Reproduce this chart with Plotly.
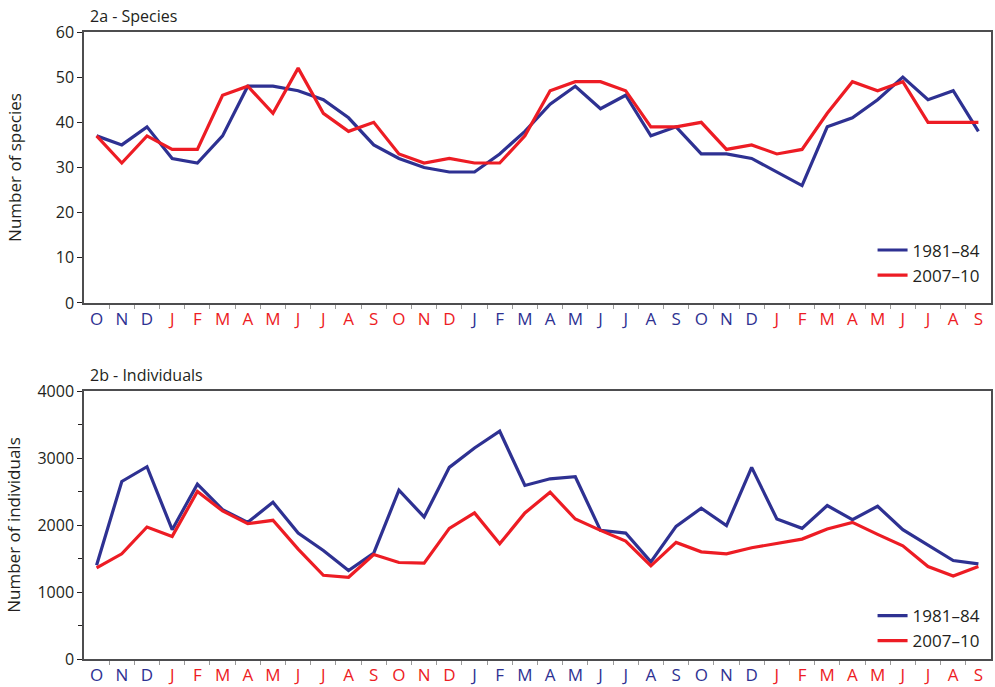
import plotly.graph_objects as go
from plotly.subplots import make_subplots

months = ["O", "N", "D",
          "J", "F", "M", "A", "M", "J", "J", "A", "S", "O", "N", "D",
          "J", "F", "M", "A", "M", "J", "J", "A", "S", "O", "N", "D",
          "J", "F", "M", "A", "M", "J", "J", "A", "S"]
# calendar year of each month (alternating label colours per year)
month_year = [0, 0, 0] + [1] * 12 + [2] * 12 + [3] * 9

species_1981 = [37, 35, 39, 32, 31, 37, 48, 48, 47, 45, 41, 35,
                32, 30, 29, 29, 33, 38, 44, 48, 43, 46, 37, 39,
                33, 33, 32, 29, 26, 39, 41, 45, 50, 45, 47, 38]
species_2007 = [37, 31, 37, 34, 34, 46, 48, 42, 52, 42, 38, 40,
                33, 31, 32, 31, 31, 37, 47, 49, 49, 47, 39, 39,
                40, 34, 35, 33, 34, 42, 49, 47, 49, 40, 40, 40]

indiv_1981 = [1400, 2650, 2870, 1930, 2610, 2230, 2040, 2340, 1880, 1620, 1320, 1580,
              2520, 2120, 2860, 3150, 3400, 2590, 2690, 2720, 1920, 1880, 1450, 1980,
              2250, 1990, 2860, 2090, 1950, 2290, 2080, 2280, 1930, 1700, 1470, 1420]
indiv_2007 = [1360, 1570, 1970, 1830, 2500, 2210, 2020, 2070, 1640, 1250, 1220, 1560,
              1440, 1430, 1950, 2180, 1720, 2180, 2490, 2090, 1920, 1760, 1390, 1740,
              1600, 1570, 1660, 1730, 1790, 1940, 2040, 1860, 1690, 1380, 1240, 1380]

BLUE = "#2e3192"
RED = "#ed1c24"
TEXT = "#231f20"
FONT = "Open Sans"

x = list(range(len(months)))
ticktext = [f"<span style='color:{BLUE if yr % 2 == 0 else RED}'>{m}</span>"
            for m, yr in zip(months, month_year)]

fig = make_subplots(rows=2, cols=1, vertical_spacing=0.14)
fig.update_layout(
    yaxis=dict(domain=[0.5678, 1.0]),
    yaxis2=dict(domain=[0.0, 0.4274]),
)

panels = [
    (species_1981, species_2007, 1, "legend"),
    (indiv_1981, indiv_2007, 2, "legend2"),
]
for s1, s2, row, leg in panels:
    fig.add_trace(go.Scatter(x=x, y=s1, mode="lines", name="1981\u201384",
                             line=dict(color=BLUE, width=3.2), legend=leg),
                  row=row, col=1)
    fig.add_trace(go.Scatter(x=x, y=s2, mode="lines", name="2007\u201310",
                             line=dict(color=RED, width=3.2), legend=leg),
                  row=row, col=1)

xaxis_common = dict(
    range=[-0.5, len(months) - 0.5],
    tickmode="array", tickvals=x, ticktext=ticktext,
    ticks="", showgrid=False, zeroline=False, automargin=False,
    showline=True, mirror=True, linecolor="#4d4d4f", linewidth=1.5,
    tickfont=dict(family=FONT, size=17),
    minor=dict(tickmode="array", tickvals=[i + 0.5 for i in x[:-1]],
               ticks="outside", ticklen=4, tickcolor="#9a9a9a", tickwidth=1),
    fixedrange=True,
)
fig.update_xaxes(**xaxis_common, row=1, col=1)
fig.update_xaxes(**xaxis_common, row=2, col=1)

yaxis_common = dict(
    showgrid=False, zeroline=False, automargin=False,
    showline=True, mirror=True, linecolor="#4d4d4f", linewidth=1.5,
    ticks="outside", ticklen=5, tickcolor=TEXT, tickwidth=1,
    tickfont=dict(family=FONT, size=16, color=TEXT),
    title_font=dict(family=FONT, size=17, color=TEXT),
)
fig.update_yaxes(**yaxis_common, range=[0, 60], tickvals=[0, 10, 20, 30, 40, 50, 60],
                 title_text="Number of species", title_standoff=30, row=1, col=1)
fig.update_yaxes(**yaxis_common, range=[0, 4000], tickvals=[0, 1000, 2000, 3000, 4000],
                 minor=dict(tickvals=[500, 1500, 2500, 3500], ticks="outside",
                            ticklen=4, tickcolor=TEXT),
                 title_text="Number of individuals", title_standoff=12, row=2, col=1)

legend_common = dict(
    xanchor="right", yanchor="bottom", bgcolor="rgba(0,0,0,0)",
    font=dict(family=FONT, size=17, color=TEXT),
    itemwidth=30, tracegroupgap=0,
)
fig.update_layout(
    legend=dict(**legend_common, x=0.994, y=0.583),
    legend2=dict(**legend_common, x=0.994, y=0.0),
)

fig.add_annotation(text="2a - Species", xref="paper", yref="paper",
                   x=0.0, y=1.0, xshift=4, yshift=3, xanchor="left", yanchor="bottom",
                   showarrow=False, font=dict(family=FONT, size=16, color=TEXT))
fig.add_annotation(text="2b - Individuals", xref="paper", yref="paper",
                   x=0.0, y=0.4274, xshift=4, yshift=3, xanchor="left", yanchor="bottom",
                   showarrow=False, font=dict(family=FONT, size=16, color=TEXT))

fig.update_layout(
    width=995, height=687,
    margin=dict(l=84, r=4, t=32, b=28, autoexpand=False),
    paper_bgcolor="white", plot_bgcolor="white",
    font=dict(family=FONT, color=TEXT),
)

fig.write_html("out.html", config={"displayModeBar": False})
